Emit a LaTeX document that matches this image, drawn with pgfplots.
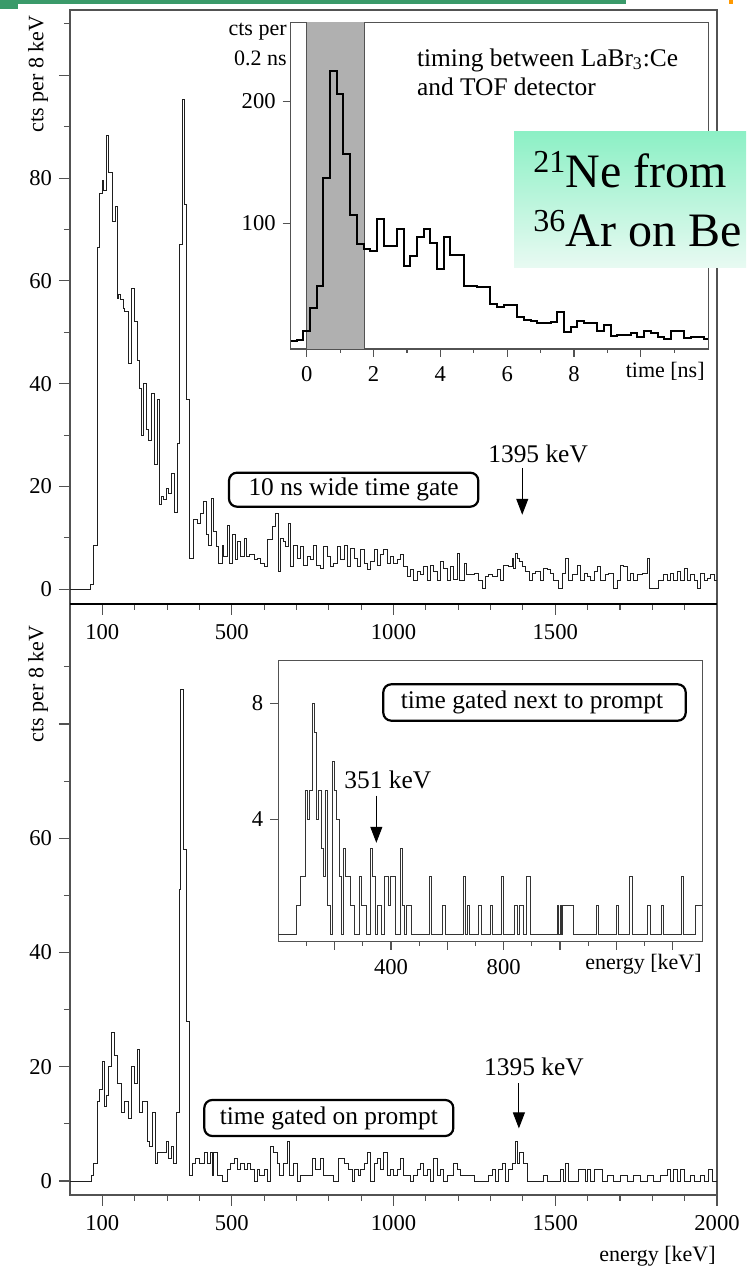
\documentclass[border=0pt]{standalone}
\usepackage{fontspec}
\setmainfont{Liberation Serif}
\usepackage{pgfplots}
\pgfplotsset{compat=1.18}
\usetikzlibrary{arrows.meta}
\newcommand\tl{\fontsize{11.3}{12}\selectfont}
\newcommand\lb{\fontsize{11}{13}\selectfont}
\newcommand\an{\fontsize{12.7}{14.5}\selectfont}
\definecolor{frame}{gray}{0.32}
\definecolor{histc}{gray}{0.12}
\definecolor{slidegreen}{HTML}{3A9A6A}
\definecolor{mintA}{HTML}{8CF0C5}
\definecolor{mintB}{HTML}{E8FAF2}
\pgfplotsset{
  spec/.style={
    scale only axis, anchor=south west,
    axis line style={frame, line width=0.55pt},
    tick style={frame, line width=0.55pt},
    tick align=outside, tick pos=left,
    major tick length=5.5pt, minor tick length=3pt,
    ticklabel style={font=\tl, text=black},
    xticklabel style={yshift=-1.2pt},
    clip=true,
  },
}
\begin{document}
\begin{tikzpicture}
% ---------- bottom main panel ----------
\begin{axis}[spec, at={(35pt,36.5pt)}, width=323.5pt, height=295.5pt,
  xmin=0, xmax=2000, ymin=-2.45, ymax=101,
  xtick={100,500,1000,1500,2000}, xticklabels={100,500,1000,1500,2000},
  minor xtick={200,300,400,600,700,800,900,1100,1200,1300,1400,1600,1700,1800,1900},
  ytick={0,20,40,60,80}, yticklabels={0,20,40,60,},
  minor ytick={10,30,50,70,90},
]
\addplot[const plot mark left, histc, line width=0.5pt] coordinates {
(0,0) (66,1) (74,3) (84,14) (91.5,16) (100,21) (107,13) (113,15) (120,20) (129,26) (139,22) (146,17) (160,12) (167,14) (182,11) (189,20) (200,17) (208,23) (216,12) (223,14) (239,7) (247,6) (254,12) (265,3) (270,5) (285,5) (299,7) (306,4) (314,6) (321,3) (330,12) (337,51) (342,86) (350,58) (360,28) (368,1) (378,3) (388,4) (400,3) (416,5) (424,3) (433,5) (440,1) (445,5) (455,1) (471,0) (486,2) (496,3) (507,4) (517,2) (527,3) (538,2) (548,3) (558,2) (569,0) (579,2) (587,1) (600,2) (610,0) (620,6) (628,5) (641,3) (649,1) (659,3) (672,7) (680,1) (690,3) (703,0) (713,1) (749,4) (759,2) (775,4) (785,1) (816,0) (831,4) (847,3) (862,2) (873,0) (878,2) (893,1) (898,2) (909,3) (919,5) (929,0) (940,3) (950,4) (960,2) (970,5) (981,1) (991,2) (1001,1) (1012,2) (1022,4) (1032,1) (1043,1) (1053,0) (1063,1) (1073,2) (1084,3) (1094,1) (1104,2) (1115,0) (1125,4) (1135,1) (1146,2) (1156,0) (1166,1) (1187,3) (1197,2) (1207,1) (1228,1) (1249,0) (1295,1) (1305,2) (1316,0) (1326,2) (1336,3) (1346,0) (1357,2) (1367,3) (1377,7) (1383,3) (1391,5) (1403,3) (1414,0) (1465,1) (1475,0) (1517,2) (1527,0) (1532,3) (1542,0) (1573,2) (1594,0) (1599,2) (1609,0) (1620,2) (1645,0) (1661,1) (1681,0) (1702,1) (1723,0) (1743,1) (1764,0) (1784,1) (1805,0) (1826,1) (1846,2) (1857,0) (1867,2) (1877,0) (1887,2) (1898,0) (1918,1) (1929,0) (1949,1) (1960,0) (1975,2) (1985,0) (2000,0)
};
\draw[black, line width=0.5pt, -{Triangle[width=6pt,length=8pt]}] (axis cs:1387.6,17.1) -- (axis cs:1387.6,9.2);
\node[font=\an, inner sep=0pt] at (axis cs:1434,20) {1395 keV};
\end{axis}
% ---------- top main panel ----------
\begin{axis}[spec, at={(35pt,332pt)}, width=323.5pt, height=297pt,
  xmin=0, xmax=2000, ymin=-2.86, ymax=112.7,
  xtick={100,500,1000,1500,2000}, xticklabels={100,500,1000,1500,},
  minor xtick={200,300,400,600,700,800,900,1100,1200,1300,1400,1600,1700,1800,1900},
  ytick={0,20,40,60,80,100}, yticklabels={0,20,40,60,80,},
  minor ytick={10,30,50,70,90,110},
]
\addplot[const plot mark left, histc, line width=0.5pt] coordinates {
(0,0) (64,1) (74,8.6) (84,66.5) (90,77) (100,79.5) (105,77.5) (112,88.3) (118,81) (130,71.5) (140,74.5) (146,56.5) (151,57.3) (156,56.4) (164,54.7) (170,54) (182,44) (189,58.5) (200,52) (208,44.6) (215,39) (221,30) (228,40) (237,31) (244,29) (252,38) (262,24.2) (270,37) (277,16.5) (283,18) (290,17.5) (298,19.6) (306,18.7) (314,22.6) (324,15) (332,28.4) (340,67) (347,95.3) (354,74.8) (360,37) (368,6) (383,13.5) (393,12.8) (404,14.8) (414,17.1) (422,10.6) (429,8.6) (437,17.7) (445,11.2) (453,8.3) (460,5.1) (471,8.6) (476,6.4) (486,12.5) (494,5.1) (502,10.6) (512,5.7) (517,9.3) (527,6.4) (538,9.9) (546,6.4) (556,6.7) (569,5.7) (579,6) (589,5.1) (600,4.4) (610,9.6) (625,12.2) (636,14.8) (643,3.4) (651,9.9) (661,9.3) (666,8.3) (674,12.8) (682,4.4) (692,8.6) (703,6) (713,8.3) (723,4.7) (733,6.4) (744,5.7) (754,8.6) (762,4.7) (775,4.1) (785,8.3) (795,6.4) (806,4.4) (816,5.1) (826,8.3) (837,5.7) (847,8.6) (857,4.4) (867,8) (878,6) (888,4.4) (898,7.7) (909,5.1) (919,3.8) (929,5.4) (940,7.7) (950,4.7) (960,6.7) (970,7.7) (981,5.1) (991,6.4) (1001,5.1) (1012,5.7) (1022,6.7) (1032,4.4) (1043,2.5) (1053,3.8) (1063,1.8) (1073,3.4) (1084,2.8) (1094,4.4) (1104,1.8) (1115,4.7) (1125,3.4) (1135,1.8) (1146,5.4) (1156,4.1) (1166,1.8) (1176,4.4) (1187,2) (1197,7) (1205,1.8) (1218,5.1) (1226,2.8) (1249,3.1) (1264,1.8) (1274,0.2) (1285,2.5) (1295,2.8) (1305,2.5) (1321,3.8) (1331,1.8) (1341,4.7) (1357,4.4) (1367,6) (1372,4.1) (1377,7) (1383,6) (1388,5.4) (1398,4.4) (1408,3.4) (1419,1.8) (1429,3.1) (1439,3.4) (1455,1.8) (1465,4.1) (1475,3.8) (1486,3.1) (1496,1.8) (1511,0.2) (1522,3.1) (1532,6) (1542,1.8) (1553,2.8) (1568,4.7) (1578,1.8) (1589,3.1) (1599,2.5) (1609,1.8) (1620,3.4) (1630,4.4) (1640,1.8) (1656,2.8) (1666,3.1) (1681,0.2) (1692,1.8) (1702,4.7) (1712,4.4) (1723,1.8) (1733,3.1) (1743,1.8) (1753,2.8) (1769,3.1) (1784,6) (1792,0.2) (1820,1.8) (1836,2.8) (1846,1.8) (1857,3.1) (1867,1.8) (1877,3.4) (1887,1.8) (1898,4.1) (1908,1.8) (1918,2.8) (1929,1.8) (1939,0.2) (1949,3.1) (1960,1.8) (1970,2.1) (1980,2.8) (1991,1.8) (2000,1.8)
};
\draw[black, line width=0.5pt, -{Triangle[width=6pt,length=8pt]}] (axis cs:1398,23.6) -- (axis cs:1398,14.5);
\node[font=\an, inner sep=0pt] at (axis cs:1447,26.4) {1395 keV};
\end{axis}
\draw[black, line width=1pt] (35pt,332pt) -- (358.5pt,332pt);
% ---------- top inset: timing ----------
\begin{axis}[spec, at={(145.35pt,459.5pt)}, width=208.8pt, height=163.35pt,
  xmin=-0.48, xmax=12.02, ymin=-3.3, ymax=265,
  xtick={0,2,4,6,8,10}, xticklabels={0,2,4,6,8,},
  minor xtick={1,3,5,7,9,11},
  ytick={100,200}, yticklabels={100,200},
  major tick length=4pt, minor tick length=2pt,
  axis background/.style={fill=white},
]
\fill[gray!62] (axis cs:0,-3.3) rectangle (axis cs:1.72,265);
\draw[frame, line width=0.5pt] (axis cs:0,-3.3) -- (axis cs:0,265);
\draw[frame, line width=0.5pt] (axis cs:1.72,-3.3) -- (axis cs:1.72,265);
\addplot[const plot mark left, black, line width=1pt] coordinates {
(-0.48,3) (-0.3,4) (-0.1,11.5) (0.1,30) (0.3,48.5) (0.5,137) (0.7,225) (0.9,206) (1.1,157) (1.3,107) (1.5,83) (1.7,79) (1.9,77.5) (2.1,103.5) (2.3,81) (2.5,81) (2.7,95) (2.9,65) (3.1,73) (3.3,88.5) (3.5,95) (3.7,83.5) (3.9,62) (4.1,89) (4.3,74) (4.5,74) (4.7,48.8) (4.9,48.8) (5.1,47.4) (5.3,47.4) (5.5,34) (5.7,31.5) (5.9,33) (6.1,33) (6.3,23) (6.5,20.5) (6.7,20) (6.9,18.4) (7.1,18.4) (7.3,19) (7.5,27) (7.7,11) (7.9,15) (8.1,20) (8.3,18.4) (8.5,18) (8.7,11.5) (8.9,16) (9.1,7.4) (9.3,8.2) (9.5,8.2) (9.7,9.6) (9.9,6.8) (10.1,11.5) (10.3,10) (10.5,6.8) (10.7,4.7) (10.9,11.8) (11.1,11.8) (11.3,5.5) (11.5,6.8) (11.7,6.8) (11.9,4.7) (12.02,4.7)
};
\end{axis}
% ---------- bottom inset ----------
\begin{axis}[spec, at={(139.15pt,163.15pt)}, width=212pt, height=140.5pt,
  xmin=0, xmax=1505, ymin=-0.24, ymax=9.48,
  xtick={200,400,600,800,1000,1200,1400}, xticklabels={,400,,800,,,},
  minor xtick={100,300,500,700,900,1100,1300},
  ytick={4,8}, yticklabels={4,8},
  major tick length=4pt, minor tick length=2pt,
  axis background/.style={fill=white},
]
\addplot[const plot mark left, black!80, line width=0.5pt] coordinates {
(0,0) (64,1) (80,2) (96,5) (104,4) (112,5) (120,8) (128,7) (136,4) (144,5) (152,3) (160,2) (168,5) (176,1) (184,0) (192,6) (200,5) (208,4) (216,2) (224,0) (232,3) (240,2) (256,1) (272,0) (288,2) (296,1) (312,0) (328,3) (336,2) (344,0) (352,1) (368,0) (376,2) (392,1) (400,2) (416,0) (432,3) (440,1) (448,0) (456,1) (472,0) (536,2) (544,0) (584,1) (592,0) (656,2) (664,0) (672,1) (680,0) (712,1) (720,0) (752,1) (760,0) (792,2) (800,0) (840,1) (848,0) (856,1) (872,0) (880,2) (896,0) (992,1) (996,0) (1000,1) (1004,0) (1008,1) (1048,0) (1128,1) (1136,0) (1200,1) (1208,0) (1248,2) (1256,0) (1312,1) (1320,0) (1360,1) (1368,0) (1432,2) (1440,0) (1480,1) (1505,1)
};
\draw[black, line width=0.5pt, -{Triangle[width=6pt,length=8pt]}] (axis cs:348,4.81) -- (axis cs:348,3.18);
\node[font=\an, inner sep=0pt] at (axis cs:388.6,5.35) {351 keV};
\end{axis}
% ---------- annotations (pixel coordinates) ----------
\begin{scope}[shift={(0pt,634pt)}, x=0.5pt, y=-0.5pt]
\draw[black, line width=1.1pt, rounded corners=4pt, fill=white] (229,472.7) rectangle (478.3,506.7);
\node[font=\an, inner sep=0pt] at (353.6,489.7) {10 ns wide time gate};
\draw[black, line width=1.1pt, rounded corners=4pt, fill=white] (204.3,1100) rectangle (453.3,1136);
\node[font=\an, inner sep=0pt] at (328.8,1118) {time gated on prompt};
\draw[black, line width=1.1pt, rounded corners=4pt, fill=white] (383.3,684.3) rectangle (685.7,720.7);
\node[font=\an, inner sep=0pt] at (532,702.5) {time gated next to prompt};
\node[font=\an, anchor=west, inner sep=0pt, align=left] at (416.7,72) {timing between LaBr\textsubscript{3}:Ce\\and TOF detector};
\node[font=\lb, anchor=east, inner sep=0pt] at (287,31.7) {cts per};
\node[font=\lb, anchor=east, inner sep=0pt] at (287,58.3) {0.2 ns};
\node[font=\lb, anchor=east, inner sep=0pt] at (705,371) {time [ns]};
\node[font=\lb, anchor=east, inner sep=0pt] at (702,964) {energy [keV]};
\node[font=\lb, anchor=east, inner sep=0pt] at (716,1256.7) {energy [keV]};
\node[font=\lb, anchor=east, inner sep=0pt, rotate=90] at (38,15) {cts per 8 keV};
\node[font=\lb, anchor=east, inner sep=0pt, rotate=90] at (38,625) {cts per 8 keV};
\fill[slidegreen] (0,0) rectangle (626,4);
\fill[slidegreen] (0,0) rectangle (18,9);
\fill[orange!80!yellow] (729,0) rectangle (733,4);
\end{scope}
% big label box
\shade[top color=mintA, bottom color=mintB] (257pt,500.35pt) rectangle (373pt,568.15pt);
\node[anchor=base west, inner sep=0pt, font=\fontsize{24}{28}\selectfont] at (266.5pt,540pt) {\raisebox{7.5pt}{\fontsize{16}{16}\selectfont 21}Ne from};
\node[anchor=base west, inner sep=0pt, font=\fontsize{24}{28}\selectfont] at (266.5pt,510.65pt) {\raisebox{7.5pt}{\fontsize{16}{16}\selectfont 36}Ar on Be};
\pgfresetboundingbox
\path[use as bounding box] (0pt,0pt) rectangle (373pt,634pt);
\end{tikzpicture}
\end{document}
